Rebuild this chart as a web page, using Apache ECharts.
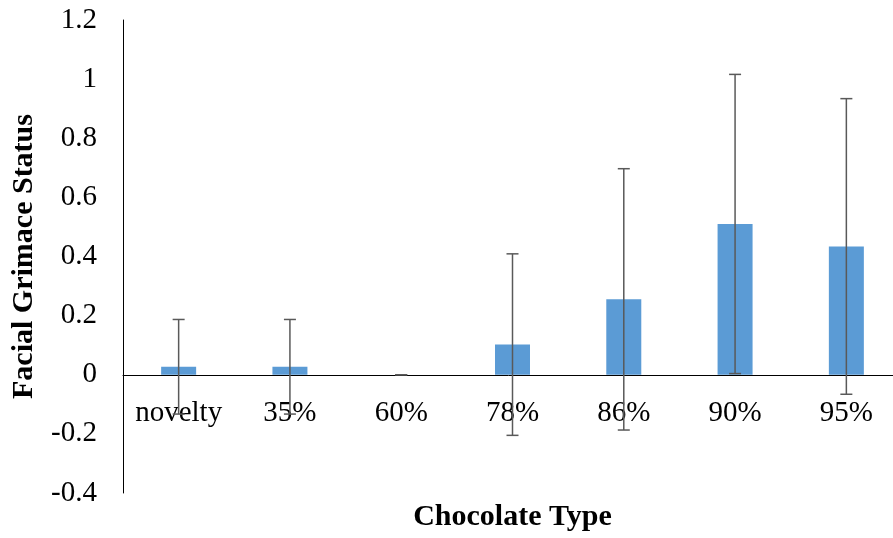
<!DOCTYPE html>
<html><head><meta charset="utf-8">
<script src="https://cdn.jsdelivr.net/npm/echarts@6/dist/echarts.min.js"></script>
<style>html,body{margin:0;padding:0;background:#fff}#c{width:893px;height:538px}</style>
</head><body><div id="c"></div>
<script>
const categories = ['novelty','35%','60%','78%','86%','90%','95%'];
const means = [0.027, 0.027, 0, 0.102, 0.255, 0.51, 0.434];
const errors = [0.16, 0.16, 0, 0.307, 0.442, 0.506, 0.50];
const yTicks = {min: -0.4, max: 1.2, interval: 0.2};

const errData = means.map((m, i) => [i, m - errors[i], m + errors[i]]);
const FONT = '"Liberation Serif", "Times New Roman", serif';

const chart = echarts.init(document.getElementById('c'));
chart.setOption({
  animation: false,
  grid: {left: 123, top: 20, width: 779, height: 473, containLabel: false, outerBoundsMode: 'none'},
  xAxis: {
    type: 'category', data: categories,
    axisLine: {onZero: true, lineStyle: {color: '#000', width: 1}},
    axisTick: {show: false},
    axisLabel: {color: '#000', fontFamily: FONT, fontSize: 29, margin: -94, interval: 0, hideOverlap: false},
    name: 'Chocolate Type', nameLocation: 'middle', nameGap: 9,
    nameTextStyle: {color: '#000', fontFamily: FONT, fontSize: 30, fontWeight: 'bold'}
  },
  yAxis: {
    type: 'value', min: yTicks.min, max: yTicks.max, interval: yTicks.interval,
    splitLine: {show: false},
    axisLine: {show: true, onZero: false, lineStyle: {color: '#000', width: 1}},
    axisTick: {show: false},
    axisLabel: {color: '#000', fontFamily: FONT, fontSize: 29, margin: 26,
      formatter: v => String(Math.round(v * 10) / 10)},
    name: 'Facial Grimace Status', nameLocation: 'middle', nameGap: 84,
    nameTextStyle: {color: '#000', fontFamily: FONT, fontSize: 30, fontWeight: 'bold'}
  },
  series: [
    {type: 'bar', data: means, barWidth: 35, itemStyle: {color: '#5B9BD5'}},
    {type: 'custom', data: errData, z: 10,
      renderItem: function (params, api) {
        const x = api.value(0);
        const lo = api.coord([x, api.value(1)]);
        const hi = api.coord([x, api.value(2)]);
        const hw = 6;
        const style = {stroke: '#595959', lineWidth: 1.5};
        return {type: 'group', children: [
          {type: 'line', shape: {x1: hi[0], y1: hi[1], x2: lo[0], y2: lo[1]}, style},
          {type: 'line', shape: {x1: hi[0]-hw, y1: hi[1], x2: hi[0]+hw, y2: hi[1]}, style},
          {type: 'line', shape: {x1: lo[0]-hw, y1: lo[1], x2: lo[0]+hw, y2: lo[1]}, style}
        ]};
      }}
  ]
});
</script></body></html>
